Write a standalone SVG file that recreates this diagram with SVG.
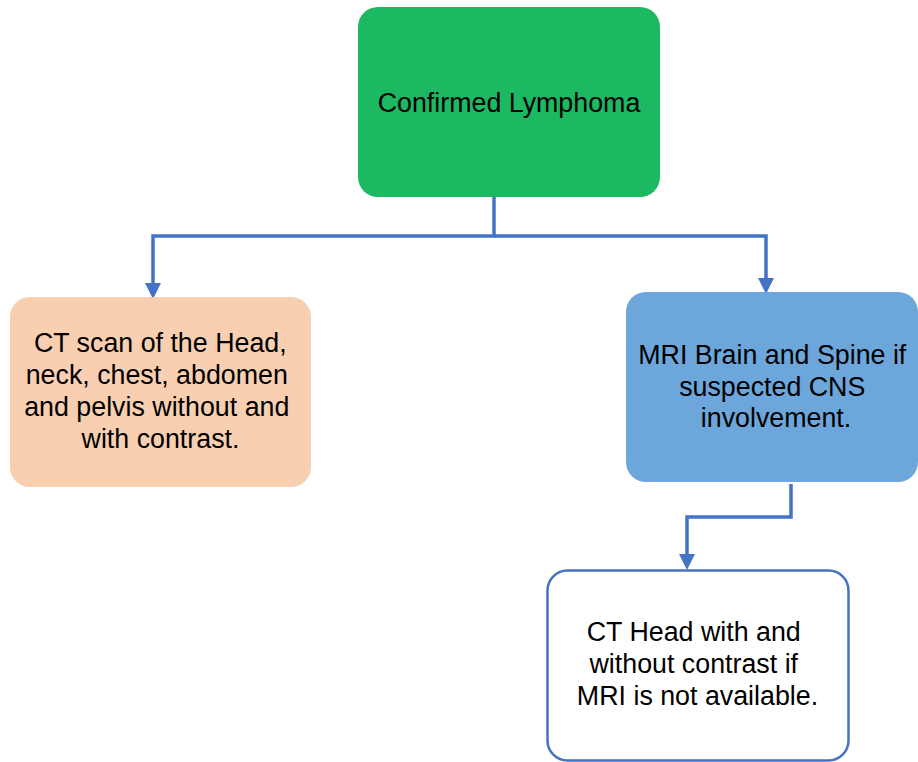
<svg xmlns="http://www.w3.org/2000/svg" width="918" height="762" viewBox="0 0 918 762">
  <style>
    .label { font-family: "Liberation Sans", Arial, sans-serif; font-size: 26.8px; fill: #000; text-anchor: middle; }
    .wire { fill: none; stroke: #4472C4; stroke-width: 3.5; stroke-linejoin: miter; }
  </style>
  <defs>
    <marker id="arrow" markerUnits="userSpaceOnUse" markerWidth="18" markerHeight="18" viewBox="0 -9 17 18" refX="0" refY="0" orient="auto">
      <path d="M0,-8 L16,0 L0,8 Z" fill="#4472C4"/>
    </marker>
  </defs>
  <rect width="918" height="762" fill="#fff"/>

  <g id="connectors">
    <path class="wire" d="M494,197 V236 H153 V283" marker-end="url(#arrow)"/>
    <path class="wire" d="M494,236 H766 V278" marker-end="url(#arrow)"/>
    <path class="wire" d="M791,484 V517 H687 V554" marker-end="url(#arrow)"/>
  </g>

  <g id="confirmed-lymphoma">
    <rect x="358" y="7" width="302" height="190" rx="20" fill="#1DB862"/>
    <text class="label" x="509" y="112">Confirmed Lymphoma</text>
  </g>

  <g id="ct-scan">
    <rect x="10" y="297" width="301" height="190" rx="20" fill="#F8CFB1"/>
    <text class="label">
      <tspan x="164" y="352">CT scan of the Head,</tspan>
      <tspan x="160.5" y="384">neck, chest, abdomen</tspan>
      <tspan x="160.5" y="416">and pelvis without and</tspan>
      <tspan x="160.5" y="448">with contrast.</tspan>
    </text>
  </g>

  <g id="mri">
    <rect x="626" y="292" width="292" height="190" rx="20" fill="#6CA6DA"/>
    <text class="label">
      <tspan x="776" y="364">MRI Brain and Spine if</tspan>
      <tspan x="776" y="396">suspected CNS</tspan>
      <tspan x="776" y="427">involvement.</tspan>
    </text>
  </g>

  <g id="ct-head">
    <rect x="547.5" y="570.5" width="301" height="190" rx="20" fill="#fff" stroke="#4472C4" stroke-width="2.5"/>
    <text class="label">
      <tspan x="697.5" y="641">CT Head with and</tspan>
      <tspan x="697.5" y="673">without contrast if</tspan>
      <tspan x="697.5" y="705">MRI is not available.</tspan>
    </text>
  </g>
</svg>
